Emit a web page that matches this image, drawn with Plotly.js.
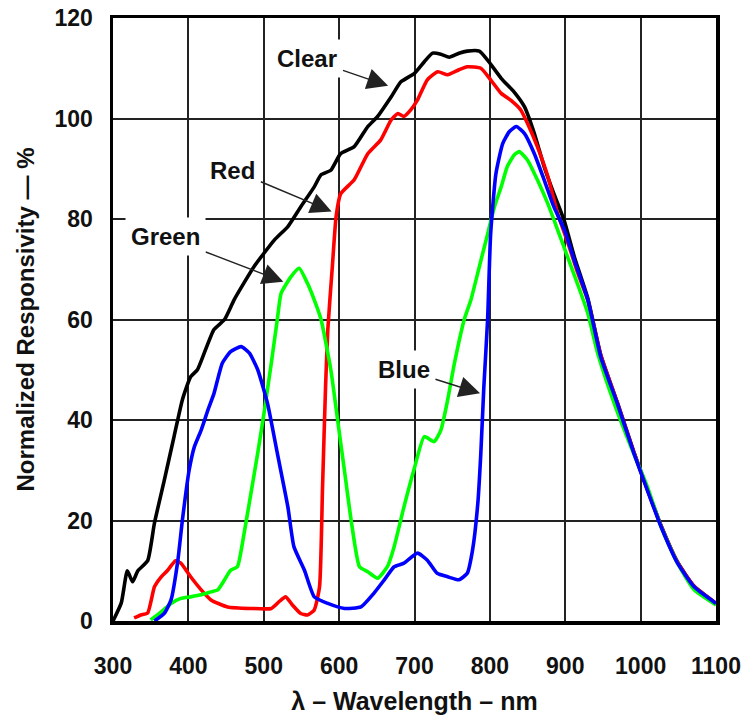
<!DOCTYPE html>
<html>
<head>
<meta charset="utf-8">
<script src="https://cdn.plot.ly/plotly-3.0.1.min.js"></script>
<style>html,body{margin:0;padding:0;background:#fff;}#chart{width:747px;height:715px;}</style>
</head>
<body>
<div id="chart"></div>
<script>
// Wavelength (nm) and normalized responsivity (%)
const clearWl = [300,311,319,326,333,346,355,368,381,392,403,412,421,434,448,461,487,514,532,549,567,576,589,602,620,638,651,669,682,700,713,724,735,746,759,770,786,797,815,832,846,859,872,885,899,912,930,947,969,991,1009,1027,1049,1071,1100];
const clearVal = [0,3.6,10,7.8,10,12,19.5,28,36.7,44,48.6,50,53.3,58,60,64,70.5,75.8,78.5,82.4,86.4,88.8,89.7,93,94.4,98.4,100.4,104.3,107.3,109,111.3,113,112.8,112.2,113,113.4,113.4,111.6,108,105.3,102.3,97,90.4,85,79.5,72.5,64.2,53,43.5,33.6,26.2,19,11.7,6.9,3.5];

const redWl = [328,337,346,355,364,372,383,390,403,417,430,452,483,510,520,529,538,549,558,567,574,578,582,585,591,596,602,620,638,655,669,678,686,695,704,717,731,744,759,770,788,801,815,828,841,850,863,877,890,903,916,930,947,969,991,1009,1027,1049,1071,1100];
const redVal = [0.6,1.2,1.6,6.8,8.8,10,12,11.5,8.8,6.2,4.2,2.8,2.5,2.5,3.8,4.8,3.2,1.5,1.2,2.2,6.8,26.7,46.6,58,70.5,80.5,85,87.8,93,95.7,99.7,101,100.4,101.7,103.7,107.7,109.3,108.7,109.7,110.3,110,107.7,105,103.6,101.7,99,94.4,88.4,81,75.5,69.5,63.8,53,43.5,33.6,26.2,19,11.7,6.9,3.5];

const greenWl = [350,364,377,390,403,417,430,439,448,456,465,474,483,492,501,510,518,523,536,547,558,567,576,589,598,607,616,627,638,651,664,673,686,700,713,726,735,744,753,766,775,786,797,806,815,823,832,839,850,863,877,890,903,916,930,943,965,987,1009,1027,1049,1071,1100];
const greenVal = [0.2,1.8,3.5,4.5,4.8,5.2,5.8,6.2,8.2,10.1,10.8,17.5,25.4,33.4,42,51.3,60,65.2,68.5,70.2,67.2,63.9,60,50,40,30,20,10.8,9.8,8.5,10.8,14.8,22.7,30.5,36.7,35.7,38,44,51.3,60,64,70.5,77,82.4,86.4,90.4,92.7,93.4,91.7,87.8,83,77.8,72.5,67.2,61.2,53.3,43.3,34.7,26.7,18.8,11.5,6.2,3.2];

const blueWl = [355,368,377,386,392,401,408,417,426,434,445,456,470,481,492,505,518,532,540,554,567,585,607,629,646,660,673,686,704,717,730,744,759,770,777,784,788,792,797,801,808,817,826,835,846,859,872,885,899,912,930,947,969,991,1009,1027,1049,1071,1100];
const blueVal = [0,1.5,4.2,12,20,30,34.7,38,42,45.3,51.3,53.6,54.6,53.3,50,43.3,33.4,22.7,14.8,10.1,4.8,3.5,2.5,2.8,5.5,8.2,10.8,11.5,13.5,12.1,9.5,8.8,8.2,9.5,14.1,23.4,33.4,46.6,60,77,89,95,97.4,98.4,97,93,87.8,82.4,77.8,71.8,63.9,52.6,43.3,33.4,26,18.8,11.5,6.8,3.5];

const xTicks = [300,400,500,600,700,800,900,1000,1100];
const yTicks = [0,20,40,60,80,100,120];

// Curve labels: [text, arrow tip x, tip y, label x, label y]
const labelText = ["Clear","Red","Green","Blue"];
const labelTipX = [665,590,526,787];
const labelTipY = [106.5,81.5,67.5,45.3];
const labelX = [558,459,370,686];
const labelY = [112,89.75,76.5,50.1];

const FONT = "Liberation Sans, Arial, Helvetica, sans-serif";
const TXT = "#111";

function tr(x, y, color, name) {
  return {x: x, y: y, type: "scatter", mode: "lines", name: name,
          line: {color: color, width: 3.6, shape: "spline", smoothing: 0.5},
          hoverinfo: "skip"};
}

const data = [
  tr(clearWl, clearVal, "#000000", "Clear"),
  tr(redWl, redVal, "#ff0000", "Red"),
  tr(greenWl, greenVal, "#00ff00", "Green"),
  tr(blueWl, blueVal, "#0000ff", "Blue")
];

const annotations = labelText.map((t, i) => ({
  text: t, x: labelTipX[i], y: labelTipY[i], xref: "x", yref: "y",
  ax: labelX[i], ay: labelY[i], axref: "x", ayref: "y",
  showarrow: true, arrowhead: 2, arrowsize: 3, arrowwidth: 1.4, arrowcolor: "#222",
  bgcolor: "#ffffff", borderpad: 5,
  font: {family: FONT, size: 24, color: TXT, weight: "bold"}
}));

const NB = "\u00a0";
const layout = {
  width: 747, height: 715,
  margin: {l: 113, r: 31, t: 18, b: 94, pad: 0},
  paper_bgcolor: "#fff", plot_bgcolor: "#fff",
  showlegend: false,
  xaxis: {
    range: [300, 1100], tickvals: xTicks, ticktext: xTicks.map(String),
    showgrid: true, gridcolor: "#222", gridwidth: 2, zeroline: false,
    showline: true, linecolor: "#000", linewidth: 3.5, mirror: true,
    ticks: "", ticklabelstandoff: 22,
    tickfont: {family: FONT, size: 23, color: TXT, weight: "bold"},
    title: {text: "\u03bb \u2013 Wavelength \u2013 nm", standoff: 17,
            font: {family: FONT, size: 25, color: TXT, weight: "bold"}},
    automargin: false, fixedrange: true
  },
  yaxis: {
    range: [0, 120], tickvals: yTicks, ticktext: yTicks.map(String),
    showgrid: true, gridcolor: "#222", gridwidth: 2, zeroline: false,
    showline: true, linecolor: "#000", linewidth: 3.5, mirror: true,
    ticks: "", ticklabelstandoff: 12,
    tickfont: {family: FONT, size: 23, color: TXT, weight: "bold"},
    title: {text: NB.repeat(7) + "Normalized Responsivity \u2014 %", standoff: 14,
            font: {family: FONT, size: 24, color: TXT, weight: "bold"}},
    automargin: false, fixedrange: true
  },
  annotations: annotations
};

Plotly.newPlot("chart", data, layout, {staticPlot: true, displayModeBar: false});
</script>
</body>
</html>
